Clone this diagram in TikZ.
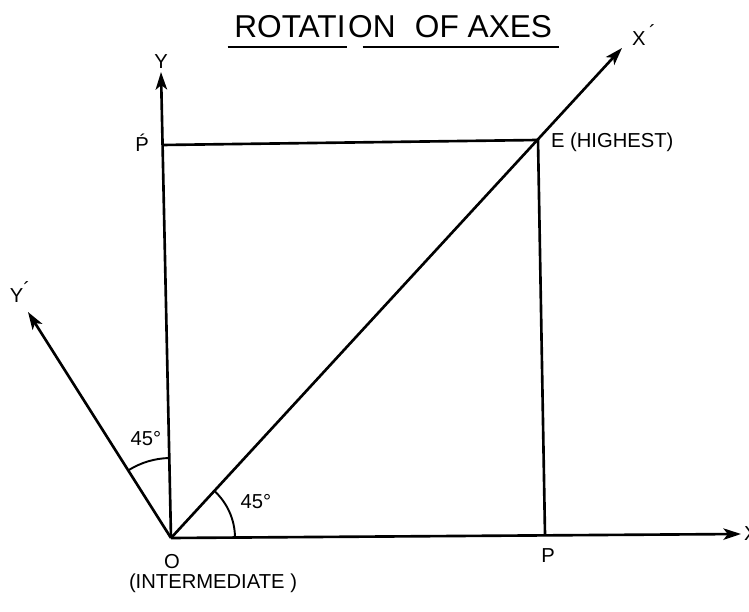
\documentclass[tikz,border=0pt]{standalone}
\usepackage{fontspec}
\setmainfont{Liberation Sans}
\usetikzlibrary{arrows.meta}
\begin{document}
\begin{tikzpicture}[x=0.02cm, y=0.02cm, line width=1.5pt,
  axis/.style={-{Stealth[length=10pt, width=6.5pt, inset=2.5pt]}},
  lbl/.style={font=\fontsize{11.5}{13}\selectfont, inner sep=1pt},
  headline/.style={font=\fontsize{18}{20}\selectfont, inner sep=0pt}]
\useasboundingbox (0,0) rectangle (749,611);

\coordinate (O) at (171,73);
\coordinate (Ytip) at (161,539);
\coordinate (Xtip) at (741,77);
\coordinate (Xrtip) at (622,563);
\coordinate (Yrtip) at (28,299);
\coordinate (Pr) at (163,466);
\coordinate (E) at (538,471);
\coordinate (P) at (545,76);

% title, underlined in two pieces
\node[headline, anchor=base west] (titleA) at (233,573) {ROTATI};
\node[headline, anchor=base west] (titleB) at (titleA.base east) {ON\,\, OF AXES};
\draw[line width=1pt] ([xshift=-3pt, yshift=-5pt]titleA.base west) -- ([yshift=-5pt]titleA.base east);
\draw[line width=1pt] ([xshift=9pt, yshift=-5pt]titleB.base west) -- ([xshift=3pt, yshift=-5pt]titleB.base east);

\draw[axis] (O) -- (Xtip);
\draw[axis] (O) -- (Ytip);
\draw[axis] (O) -- (Xrtip);
\draw[axis] (O) -- (Yrtip);
\draw (Pr) -- (E) -- (P);

\draw[line width=1.1pt] (O) ++(91:80) arc[start angle=91, end angle=122, radius=80];
\draw[line width=1.1pt] (O) ++(0.4:64) arc[start angle=0.4, end angle=47.4, radius=64];

\node[lbl, above] (ylab) at (Ytip) {Y};
\node[lbl, right] (xlab) at (Xtip) {X};
\node[lbl] (xrlab) at (644,576) {X\,\raisebox{0.5ex}{\textasciiacute}};
\node[lbl] (yrlab) at (20,319) {Y\raisebox{0.5ex}{\textasciiacute}};
\node[lbl] (prlab) at (142,468) {\'P};
\node[lbl, anchor=west] (elab) at (548,469) {E (HIGHEST)};
\node[lbl] (olab) at (172,49) {O};
\node[lbl] (plab) at (548,55) {P};
\node[lbl] (intlab) at (213,28) {(INTERMEDIATE )};
\node[lbl] (angy) at (146,172) {45\textdegree};
\node[lbl] (angx) at (256,109) {45\textdegree};
\end{tikzpicture}
\end{document}
